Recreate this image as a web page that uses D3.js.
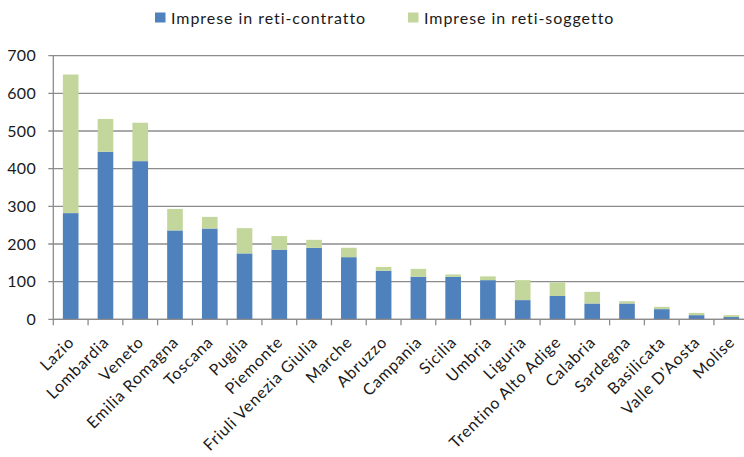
<!DOCTYPE html>
<html>
<head>
<meta charset="utf-8">
<script src="https://cdn.jsdelivr.net/npm/d3@7"></script>
<style>
  html, body { margin: 0; padding: 0; background: #fff; }
  svg { display: block; font-family: Lato, "Open Sans", sans-serif; }
</style>
</head>
<body>
<svg id="chart" width="744" height="457"></svg>
<script>
// Regions, ordered by total number of enterprises in networks
const regions = ["Lazio", "Lombardia", "Veneto", "Emilia Romagna", "Toscana", "Puglia",
  "Piemonte", "Friuli Venezia Giulia", "Marche", "Abruzzo", "Campania", "Sicilia",
  "Umbria", "Liguria", "Trentino Alto Adige", "Calabria", "Sardegna", "Basilicata",
  "Valle D'Aosta", "Molise"];
const contratto = [282, 445, 420, 236, 241, 175, 185, 190, 165, 129, 113, 113, 104, 51, 62, 42, 42, 27, 11, 6];
const soggetto  = [368, 87, 102, 57, 31, 67, 36, 21, 25, 10, 21, 6, 10, 53, 36, 31, 6, 6, 6, 5];
const seriesNames = ["Imprese in reti-contratto", "Imprese in reti-soggetto"];
const seriesColors = ["#4f81bd", "#c3d69b"];
const yTicks = [0, 100, 200, 300, 400, 500, 600, 700];

const svg = d3.select("#chart");
const margin = { left: 53.3, top: 55.7, bottom: 319.3 };
const bandW = 34.77;
const plotRight = margin.left + bandW * regions.length;

const x = d3.scaleBand().domain(regions).range([margin.left, plotRight]).paddingInner(0.55).paddingOuter(0.275);
const y = d3.scaleLinear().domain([0, 700]).range([margin.bottom, margin.top]);

// horizontal gridlines, extended left to form the outer tick marks
svg.append("g").selectAll("line").data(yTicks).join("line")
  .attr("x1", margin.left - 5).attr("x2", plotRight)
  .attr("y1", d => y(d)).attr("y2", d => y(d))
  .attr("stroke", "#8c8c8c").attr("stroke-width", 1.3);

// y tick labels
svg.append("g").selectAll("text").data(yTicks).join("text")
  .attr("x", 36).attr("y", d => y(d)).attr("dy", "0.36em")
  .attr("text-anchor", "end").attr("font-size", 16).attr("letter-spacing", 0.3).attr("fill", "#1a1a1a")
  .text(d => d);

// stacked bars
const rows = regions.map((r, i) => ({ region: r, contratto: contratto[i], soggetto: soggetto[i] }));
const stack = d3.stack().keys(["contratto", "soggetto"])(rows);
svg.append("g").selectAll("g").data(stack).join("g")
  .attr("fill", (d, i) => seriesColors[i])
  .selectAll("rect").data(d => d).join("rect")
  .attr("x", d => x(d.data.region))
  .attr("width", x.bandwidth())
  .attr("y", d => y(d[1]))
  .attr("height", d => y(d[0]) - y(d[1]));

// y axis line
svg.append("line")
  .attr("x1", margin.left).attr("x2", margin.left)
  .attr("y1", margin.top).attr("y2", margin.bottom)
  .attr("stroke", "#8c8c8c").attr("stroke-width", 1.3);

// x axis line and category tick marks
svg.append("line")
  .attr("x1", margin.left).attr("x2", plotRight)
  .attr("y1", margin.bottom).attr("y2", margin.bottom)
  .attr("stroke", "#8c8c8c").attr("stroke-width", 1.3);
svg.append("g").selectAll("line").data(d3.range(regions.length + 1)).join("line")
  .attr("x1", i => margin.left + i * bandW).attr("x2", i => margin.left + i * bandW)
  .attr("y1", margin.bottom).attr("y2", margin.bottom + 6)
  .attr("stroke", "#8c8c8c").attr("stroke-width", 1.3);

// rotated category labels
svg.append("g").selectAll("text").data(regions).join("text")
  .attr("transform", d => `translate(${x(d) + x.bandwidth() / 2 + 4.5},${margin.bottom + 24}) rotate(-45)`)
  .attr("text-anchor", "end").attr("font-size", 16).attr("letter-spacing", 0.8).attr("fill", "#1a1a1a")
  .text(d => d);

// legend
const legend = svg.append("g");
const legendX = [155, 408];
seriesNames.forEach((name, i) => {
  legend.append("rect").attr("x", legendX[i]).attr("y", 12.5).attr("width", 10.5).attr("height", 10)
    .attr("fill", seriesColors[i]);
  legend.append("text").attr("x", legendX[i] + 16).attr("y", 23.5)
    .attr("font-size", 16).attr("letter-spacing", 0.95).attr("fill", "#1a1a1a").text(name);
});
</script>
</body>
</html>
